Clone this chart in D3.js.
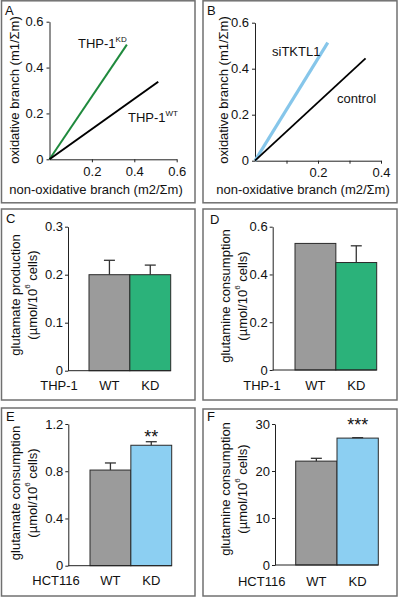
<!DOCTYPE html>
<html>
<head>
<meta charset="utf-8">
<script src="https://cdn.jsdelivr.net/npm/d3@7"></script>
<style>
  body { margin: 0; background: #fff; }
  svg { display: block; }
  text { font-family: "Liberation Sans", Arial, sans-serif; fill: #111; }
</style>
</head>
<body>
<svg id="chart" width="400" height="603"></svg>
<script>
// ---- Data ----
// Panel A: lines from origin
const aSeries = ["THP-1 KD", "THP-1 WT"];
const aEndX = [0.365, 0.513];
const aEndY = [0.5, 0.338];
const aXTicks = [0.2, 0.4, 0.6];
const aYTicks = [0, 0.2, 0.4, 0.6];
// Panel B
const bSeries = ["siTKTL1", "control"];
const bEndX = [0.231, 0.351];
const bEndY = [0.513, 0.445];
const bXTicks = [0.1, 0.2, 0.3, 0.4];
const bXLabels = [0.2, 0.4];
const bYTicks = [0, 0.2, 0.4, 0.6];
// Bar panels
const barCats = ["WT", "KD"];
const cValues = [0.2, 0.2];
const cErr = [0.03, 0.02];
const cTicks = [0, 0.1, 0.2, 0.3];
const dValues = [0.53, 0.45];
const dErr = [0, 0.07];
const dTicks = [0, 0.2, 0.4, 0.6];
const eValues = [0.81, 1.02];
const eErr = [0.06, 0.03];
const eTicks = [0, 0.4, 0.8, 1.2];
const fValues = [22.1, 27.0];
const fErr = [0.6, 0.1];
const fTicks = [0, 10, 20, 30];

const svg = d3.select("#chart");
const GREY = "#9b9b9b", GREEN = "#2bb27a", BLUE = "#8ccff2";
const fmt = d => d === 0 ? "0" : String(d);

// panel frames
const frames = [
  {x: 1.5, y: 0.8, w: 193.5, h: 202, L: "A", lx: 5, ly: 15},
  {x: 203, y: 0.8, w: 194, h: 202, L: "B", lx: 207, ly: 15},
  {x: 1.5, y: 209, w: 193.5, h: 191, L: "C", lx: 6, ly: 223},
  {x: 203, y: 209, w: 194, h: 191, L: "D", lx: 210, ly: 224},
  {x: 1.5, y: 408, w: 193.5, h: 188, L: "E", lx: 6, ly: 421},
  {x: 203, y: 409, w: 194, h: 187, L: "F", lx: 207, ly: 421}
];
frames.forEach(f => {
  svg.append("rect").attr("x", f.x).attr("y", f.y).attr("width", f.w).attr("height", f.h)
    .attr("fill", "none").attr("stroke", "#707070").attr("stroke-width", 1.5);
  svg.append("text").attr("x", f.lx).attr("y", f.ly).attr("font-size", 13).text(f.L);
});

function styleAxis(g) {
  g.selectAll("path,line").attr("stroke", "#222").attr("stroke-width", 1);
  g.selectAll("text").attr("font-size", 13).attr("font-family", '"Liberation Sans", Arial, sans-serif').attr("fill", "#111");
}

function linePanel(o) {
  const x = d3.scaleLinear().domain(o.xd).range(o.xr);
  const y = d3.scaleLinear().domain(o.yd).range(o.yr);
  const gy = svg.append("g").attr("transform", `translate(${o.xr[0]},0)`)
    .call(d3.axisLeft(y).tickValues(o.yTicks).tickFormat(fmt).tickSize(3).tickSizeOuter(0).tickPadding(3));
  styleAxis(gy);
  const gx = svg.append("g").attr("transform", `translate(0,${o.yr[0]})`)
    .call(d3.axisBottom(x).tickValues(o.xTicks).tickFormat(d => o.xLabels.includes(d) ? fmt(d) : "").tickSize(3).tickSizeOuter(0).tickPadding(4));
  styleAxis(gx);
  o.endX.forEach((ex, i) => {
    svg.append("path").datum([[0, 0], [ex, o.endY[i]]])
      .attr("d", d3.line().x(d => x(d[0])).y(d => y(d[1])))
      .attr("stroke", o.colors[i]).attr("stroke-width", o.widths[i]).attr("fill", "none");
  });
  // axis titles
  svg.append("text").attr("transform", `translate(${o.ytx},${o.yty}) rotate(-90)`)
    .attr("text-anchor", "middle").attr("dominant-baseline", "central").attr("font-size", 13)
    .text("oxidative branch (m1/Σm)");
  svg.append("text").attr("x", o.xtx).attr("y", o.xty)
    .attr("text-anchor", "middle").attr("dominant-baseline", "central").attr("font-size", 13)
    .text("non-oxidative branch (m2/Σm)");
  return {x, y};
}

// Panel A
linePanel({xd: [0, 0.6], xr: [49.5, 176.7], yd: [0, 0.6], yr: [159.3, 21.7],
  yTicks: aYTicks, xTicks: aXTicks, xLabels: aXTicks, endX: aEndX, endY: aEndY,
  colors: ["#1f8a3d", "#000"], widths: [2, 2], ytx: 14, yty: 90, xtx: 96, xty: 189});
const tA1 = svg.append("text").attr("x", 78).attr("y", 48).attr("font-size", 13);
tA1.append("tspan").text("THP-1");
tA1.append("tspan").attr("font-size", 8).attr("dy", -6).text("KD");
const tA2 = svg.append("text").attr("x", 128).attr("y", 122).attr("font-size", 13);
tA2.append("tspan").text("THP-1");
tA2.append("tspan").attr("font-size", 8).attr("dy", -6).text("WT");

// Panel B
linePanel({xd: [0, 0.4], xr: [255, 381], yd: [0, 0.6], yr: [160.7, 22.7],
  yTicks: bYTicks, xTicks: bXTicks, xLabels: bXLabels, endX: bEndX, endY: bEndY,
  colors: ["#86c6ea", "#000"], widths: [3.2, 1.8], ytx: 223, yty: 90, xtx: 303, xty: 189});
svg.append("text").attr("x", 272).attr("y", 56).attr("font-size", 13).text(bSeries[0]);
svg.append("text").attr("x", 337).attr("y", 103).attr("font-size", 13).text(bSeries[1]);

function barPanel(o) {
  const x = d3.scaleBand().domain(barCats).range(o.xr).padding(0);
  const y = d3.scaleLinear().domain(o.yd).range(o.yr);
  // bars
  barCats.forEach((c, i) => {
    const v = o.values[i];
    svg.append("rect").attr("x", x(c)).attr("y", y(v)).attr("width", x.bandwidth()).attr("height", y(0) - y(v))
      .attr("fill", o.colors[i]).attr("stroke", "#2a2a2a").attr("stroke-width", 1);
    if (o.err[i] > 0) {
      const cx = x(c) + x.bandwidth() / 2;
      svg.append("line").attr("x1", cx).attr("x2", cx).attr("y1", y(v)).attr("y2", y(v + o.err[i]))
        .attr("stroke", "#333").attr("stroke-width", 1.3);
      svg.append("line").attr("x1", cx - 5.5).attr("x2", cx + 5.5).attr("y1", y(v + o.err[i])).attr("y2", y(v + o.err[i]))
        .attr("stroke", "#333").attr("stroke-width", 1.3);
    }
  });
  const gy = svg.append("g").attr("transform", `translate(${o.ax},0)`)
    .call(d3.axisLeft(y).tickValues(o.ticks).tickFormat(fmt).tickSize(3).tickSizeOuter(0).tickPadding(2));
  styleAxis(gy);
  svg.append("line").attr("x1", o.ax).attr("x2", o.xr[1]).attr("y1", o.yr[0]).attr("y2", o.yr[0])
    .attr("stroke", "#222").attr("stroke-width", 1);
  // category labels
  barCats.forEach(c => {
    svg.append("text").attr("x", x(c) + x.bandwidth() / 2).attr("y", o.labY)
      .attr("text-anchor", "middle").attr("dominant-baseline", "central").attr("font-size", 13).text(c);
  });
  svg.append("text").attr("x", o.groupX).attr("y", o.labY)
    .attr("text-anchor", "middle").attr("dominant-baseline", "central").attr("font-size", 13).text(o.group);
  // y title (two lines)
  svg.append("text").attr("transform", `translate(${o.t1x},${o.ty}) rotate(-90)`)
    .attr("text-anchor", "middle").attr("dominant-baseline", "central").attr("font-size", 13).text(o.title);
  const t2 = svg.append("text").attr("transform", `translate(${o.t2x},${o.ty}) rotate(-90)`)
    .attr("text-anchor", "middle").attr("dominant-baseline", "central").attr("font-size", 13);
  t2.append("tspan").text("(µmol/10");
  t2.append("tspan").attr("font-size", 8).attr("dy", -5).text("6");
  t2.append("tspan").attr("dy", 5).text(" cells)");
  if (o.sig) {
    svg.append("text").attr("x", x("KD") + x.bandwidth() / 2).attr("y", o.sigY)
      .attr("text-anchor", "middle").attr("font-size", 18).text(o.sig);
  }
}

barPanel({xr: [89, 170.7], yd: [0, 0.3], yr: [370.7, 226.7], ax: 68, values: cValues, err: cErr, ticks: cTicks,
  colors: [GREY, GREEN], labY: 385, group: "THP-1", groupX: 59,
  title: "glutamate production", t1x: 15, t2x: 32, ty: 295});
barPanel({xr: [295, 376.7], yd: [0, 0.6], yr: [370, 226.7], ax: 272.7, values: dValues, err: dErr, ticks: dTicks,
  colors: [GREY, GREEN], labY: 385.5, group: "THP-1", groupX: 262,
  title: "glutamine consumption", t1x: 225, t2x: 241.5, ty: 296});
barPanel({xr: [90, 171.7], yd: [0, 1.2], yr: [565.7, 424], ax: 68.3, values: eValues, err: eErr, ticks: eTicks,
  colors: [GREY, BLUE], labY: 580.5, group: "HCT116", groupX: 56,
  title: "glutamate consumption", t1x: 15, t2x: 32, ty: 493, sig: "**", sigY: 443});
barPanel({xr: [295.7, 378.3], yd: [0, 30], yr: [565, 424], ax: 275, values: fValues, err: fErr, ticks: fTicks,
  colors: [GREY, BLUE], labY: 581, group: "HCT116", groupX: 261.7,
  title: "glutamine consumption", t1x: 225, t2x: 241.5, ty: 489, sig: "***", sigY: 431});
</script>
</body>
</html>
